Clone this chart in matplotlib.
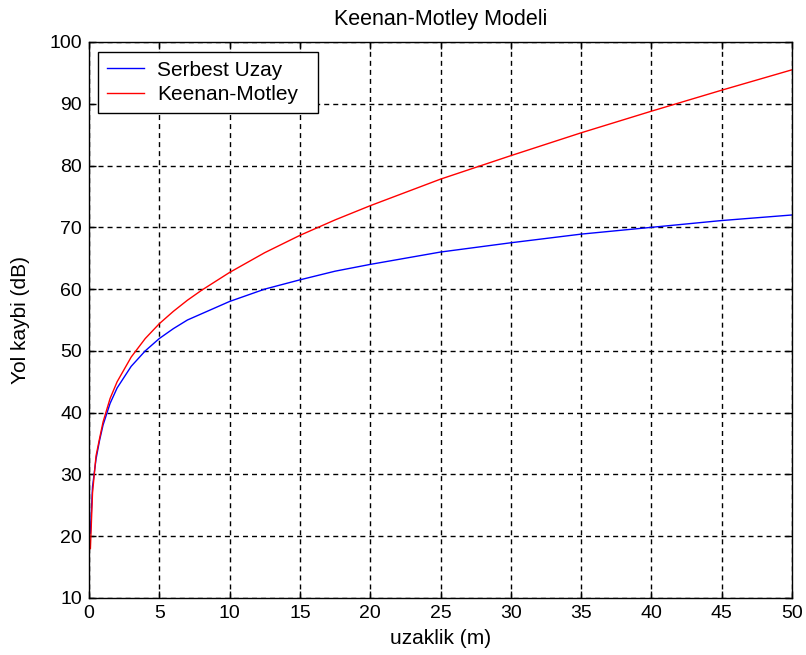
import matplotlib
matplotlib.use("Agg")
import matplotlib.pyplot as plt

# distance (m)
distance = [0.1, 0.25, 0.5, 0.75, 1, 1.5, 2, 3, 4, 5, 6, 7, 8, 10, 12.5, 15,
            17.5, 20, 25, 30, 35, 40, 45, 50]
# Serbest Uzay path loss (dB)
serbest_uzay = [20.5, 28, 32.5, 35.5, 38, 41.5, 44, 47.5, 50, 52, 53.6, 55, 56,
                58, 60, 61.5, 62.9, 64, 66, 67.5, 68.9, 70, 71.1, 72]
# Keenan-Motley path loss (dB)
keenan_motley = [18, 27, 33, 35.8, 38.5, 42.3, 45, 49, 52, 54.4, 56.4, 58.2, 59.8,
                 62.7, 65.9, 68.7, 71.2, 73.5, 77.8, 81.6, 85.3, 88.8, 92.2, 95.5]

xticks = [0, 5, 10, 15, 20, 25, 30, 35, 40, 45, 50]
yticks = [10, 20, 30, 40, 50, 60, 70, 80, 90, 100]

plt.rcParams['font.family'] = ['Liberation Sans', 'DejaVu Sans']
fs_tick = 14
fs_lab = 15
fs_title = 15.5
fs_leg = 15

W, H = 806, 655
L, R, T, B = 89, 792, 42, 598
fig = plt.figure(figsize=(W / 100, H / 100), dpi=100)
ax = fig.add_axes([L / W, (H - B) / H, (R - L) / W, (B - T) / H])

ax.plot(distance, serbest_uzay, color='#0000ff', lw=1.0, label='Serbest Uzay')
ax.plot(distance, keenan_motley, color='#ff0000', lw=1.0, label='Keenan-Motley')

ax.set_xlim(0, 50)
ax.set_ylim(10, 100)
ax.set_xticks(xticks)
ax.set_yticks(yticks)
ax.tick_params(direction='in', top=True, right=True, length=5, width=1,
               labelsize=fs_tick, pad=5)
for s in ax.spines.values():
    s.set_linewidth(1.0)
ax.grid(True, color='black', linestyle=(0, (3.6, 2.9)), linewidth=1.0)

ax.set_title('Keenan-Motley Modeli', fontsize=fs_title, pad=12)
ax.set_xlabel('uzaklik (m)', fontsize=fs_lab, labelpad=5)
ax.set_ylabel('Yol kaybi (dB)', fontsize=fs_lab, labelpad=14)

aw, ah = R - L, B - T
leg = ax.legend(loc='upper left', fontsize=fs_leg, frameon=True, fancybox=False,
                edgecolor='black', framealpha=1, borderaxespad=0,
                bbox_to_anchor=(9 / aw, 1 - 10 / ah, 220 / aw, 0.0),
                mode='expand', handlelength=1.8, handletextpad=0.62,
                borderpad=0.42, labelspacing=0.25)
leg.get_frame().set_linewidth(1.0)

fig.savefig('out.png', dpi=100)
